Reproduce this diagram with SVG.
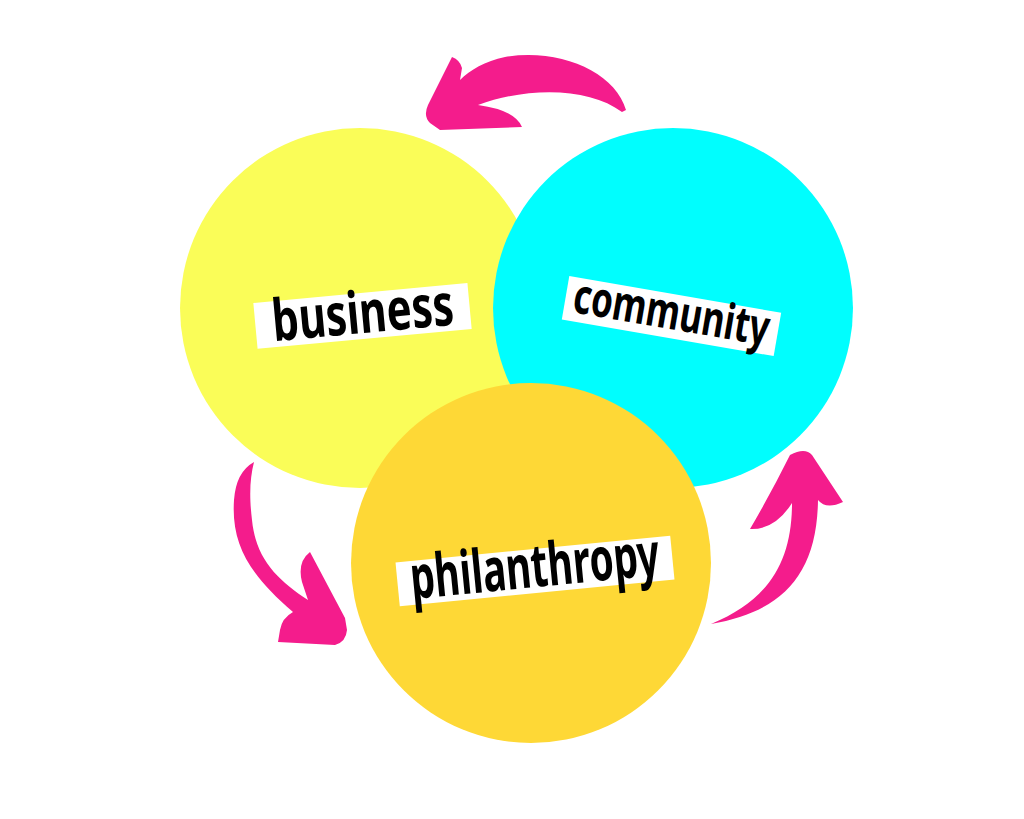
<svg xmlns="http://www.w3.org/2000/svg" width="1024" height="819" viewBox="0 0 1024 819">
<style>
.lbl{fill:#ffffff}
.txt{font-family:"Noto Sans","Liberation Sans",sans-serif;font-weight:700;fill:#000000}
.arrow{fill:#F41C8C}
</style>
<rect width="1024" height="819" fill="#ffffff"/>
<g id="business">
<circle cx="360" cy="308" r="180" fill="#FAFD58"/>
<g transform="rotate(-5.3 362 316)">
<rect class="lbl" x="255" y="293" width="215" height="46"/>
<text class="txt" x="272" y="333" font-size="58" textLength="182" lengthAdjust="spacingAndGlyphs">business</text>
</g>
</g>
<g id="community">
<circle cx="673" cy="308" r="180" fill="#00FEFE"/>
<g transform="rotate(9.8 671 316)">
<rect class="lbl" x="564" y="294" width="215" height="44"/>
<text class="txt" x="572" y="329" font-size="49" textLength="198" lengthAdjust="spacingAndGlyphs">community</text>
</g>
</g>
<g id="philanthropy">
<circle cx="531" cy="563" r="180" fill="#FED836"/>
<g transform="rotate(-5.6 535 571)">
<rect class="lbl" x="397" y="549" width="276" height="44"/>
<text class="txt" x="410" y="587" font-size="60" textLength="250" lengthAdjust="spacingAndGlyphs">philanthropy</text>
</g>
</g>
<g id="connectors">
<path class="arrow" d="M 626,110 C 615,72 560,48 505,57 C 485,61 470,70 460,80 L 462,68 Q 460,60 452,57 L 428,105 Q 423,116 430,123 L 440,130 L 522,127 Q 515,110 478,105 C 530,86 590,88 622,112 Z"/>
<path class="arrow" d="M 254,462 Q 236,472 234,500 C 231,545 250,575 293,612 Q 282,618 280,630 L 278,642 L 335,645 Q 346,642 347,630 L 345,618 L 310,552 Q 297,562 302,582 L 308,600 C 278,580 256,560 252,520 C 249,495 250,478 254,462 Z"/>
<path class="arrow" d="M 711,624 C 782,612 817,575 818,500 Q 826,510 843,502 L 812,455 Q 805,447 790,455 Q 770,495 750,529 Q 775,530 792,503 C 792,560 770,600 711,624 Z"/>
</g>
</svg>
